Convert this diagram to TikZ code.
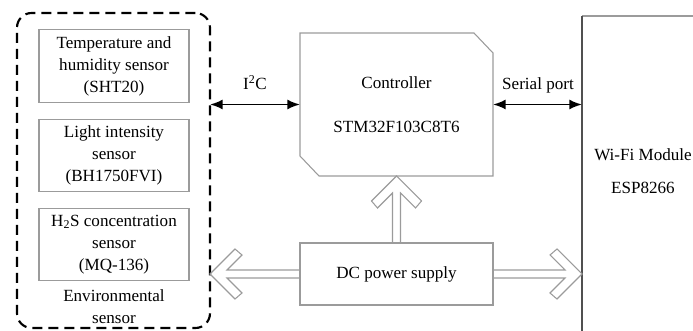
\documentclass[tikz,border=0pt]{standalone}
\usepackage{fontspec}
\setmainfont{Liberation Serif}
\usetikzlibrary{calc,arrows.meta}
\definecolor{boxgray}{RGB}{155,155,155}
\definecolor{edgegray}{RGB}{80,80,80}
\tikzset{
  every node/.style={font=\fontsize{12.8}{16.5}\selectfont, inner sep=0pt, outer sep=0pt},
  sensorbox/.style={draw=boxgray, line width=0.8pt, minimum width=112.5pt, minimum height=54.5pt, align=center},
  groupbox/.style={draw=black, line width=1.6pt, dash pattern=on 7.5pt off 4.5pt, rounded corners=11pt, minimum width=144.75pt, minimum height=236.25pt},
  plainbox/.style={minimum width=144.75pt, minimum height=107.25pt},
  dcbox/.style={draw=boxgray, line width=0.8pt, minimum width=144.75pt, minimum height=46.5pt},
  wifibox/.style={minimum width=83.25pt, minimum height=236.25pt},
  label/.style={align=center},
  busarrow/.style={line width=1.4pt, {Latex[length=9.5pt,width=7.5pt]}-{Latex[length=9.5pt,width=7.5pt]}},
  hollow/.style={draw=boxgray, line width=0.8pt, line join=miter},
}
\begin{document}
\begin{tikzpicture}[x=0.75pt, y=-0.75pt]
\useasboundingbox (0,0) rectangle (693,331);
% environmental sensor group
\node[groupbox] (env) at (113.5,170.5) {};
\node[sensorbox] (sht) at (114,66) {Temperature and\\humidity sensor\\(SHT20)};
\node[sensorbox] (bh) at (114,155.5) {Light intensity\\sensor\\(BH1750FVI)};
\node[sensorbox] (mq) at (114,244.5) {H\textsubscript{2}S concentration\\sensor\\(MQ-136)};
\node[label] (envlabel) at (114,306.5) {Environmental\\sensor};
% controller
\node[plainbox] (ctrl) at (396.5,104.5) {};
\draw[boxgray, line width=0.8pt] (ctrl.north west) -- ($(ctrl.north east)+(-19,0)$) -- ($(ctrl.north east)+(0,20)$)
  -- (ctrl.south east) -- ($(ctrl.south west)+(19,0)$) -- ($(ctrl.south west)+(0,-20)$) -- cycle;
\node[label] (ctrlname) at (396.5,83) {Controller};
\node[label] (ctrlchip) at (396.5,127) {STM32F103C8T6};
% DC power supply
\node[dcbox] (dc) at (396.5,274) {DC power supply};
% Wi-Fi module
\node[wifibox] (wifi) at (637.5,173.5) {};
\draw[boxgray, line width=0.8pt] (wifi.north west) -- (wifi.north east);
\draw[edgegray, line width=0.8pt] (wifi.south west) -- (wifi.north west);
\node[label] (wifiname) at (643,155) {Wi-Fi Module};
\node[label] (wifichip) at (643,188) {ESP8266};
% buses
\draw[busarrow] (env.east |- ctrl.west) -- (ctrl.west);
\node[label] (i2c) at (255,83) {I\textsuperscript{2}C};
\draw[busarrow] (ctrl.east) -- (wifi.west |- ctrl.east);
\node[label] (serial) at (538,85) {Serial port};
% hollow power arrows
\coordinate (ltip) at (env.east |- dc.west);
\coordinate (rtip) at (wifi.west |- dc.east);
\draw[hollow] ($(dc.west)+(0,-4)$) -- ($(ltip)+(17,-4)$) -- ++(15,-15) -- ++(-7,-6) -- (ltip)
  -- ++(25,25) -- ++(7,-6) -- ++(-15,-15) -- ($(dc.west)+(0,4)$);
\draw[hollow] ($(dc.east)+(0,-4)$) -- ($(rtip)+(-17,-4)$) -- ++(-15,-15) -- ++(7,-6) -- (rtip)
  -- ++(-25,25) -- ++(-7,-6) -- ++(15,-15) -- ($(dc.east)+(0,4)$);
\draw[hollow] ($(dc.north)+(-4,0)$) -- ($(ctrl.south)+(-4,17)$) -- ++(-15,15) -- ++(-6,-7) -- (ctrl.south)
  -- ++(25,25) -- ++(-6,7) -- ++(-15,-15) -- ($(dc.north)+(4,0)$);
\end{tikzpicture}
\end{document}
